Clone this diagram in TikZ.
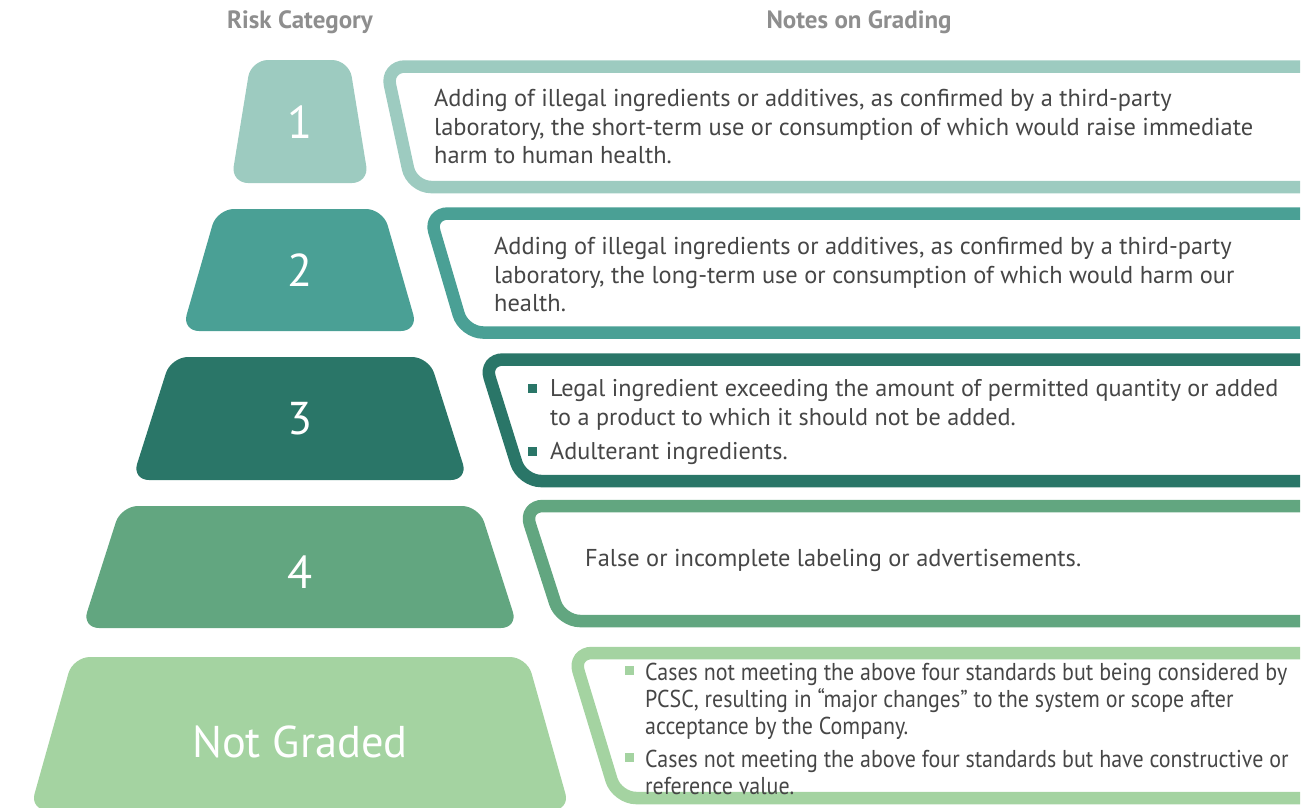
\documentclass[tikz,border=0pt]{standalone}
\usepackage{fontspec}
\setmainfont{PT Sans}
\newfontfamily\narrowfont[FakeStretch=0.9]{PT Sans}
\definecolor{riskone}  {RGB}{157, 203, 192}
\definecolor{risktwo}  {RGB}{ 74, 160, 149}
\definecolor{riskthree}{RGB}{ 42, 118, 104}
\definecolor{riskfour} {RGB}{ 98, 166, 128}
\definecolor{risknone} {RGB}{164, 211, 161}
\definecolor{notegray} {RGB}{ 70,  70,  70}
\definecolor{headgray} {RGB}{142, 142, 142}
\newcommand{\notebullet}[2][4pt]{\textcolor{#2}{\rule[#1]{9pt}{9pt}}}
\tikzset{
	tierblock/.style={
		rounded corners=17pt
	},
	tiernum/.style={
		text=white, inner sep=0pt,
		font=\fontsize{46}{46}\selectfont
	},
	noteframe/.style={
		line width=12.5pt, rounded corners=19pt
	},
	notetext/.style={
		anchor=west, align=left, inner sep=0pt, text=notegray,
		font=\fontsize{24.4}{28.5}\selectfont
	},
	header/.style={
		text=headgray, inner sep=0pt,
		font=\bfseries\fontsize{25}{25}\selectfont
	}
}

\begin{document}
\begin{tikzpicture}[x=1pt, y=-1pt]
	\clip (0,0) rectangle (1313,807);
	
	%% ═══════════════════════════════
	%%  HEADERS
	%% ═══════════════════════════════
	\node[header] (hcat)   at (300,22) {Risk Category};
	\node[header] (hnotes) at (859,22) {Notes on Grading};
	
	%% ═══════════════════════════════
	%%  PYRAMID — risk tiers (axis x=300)
	%% ═══════════════════════════════
	\fill[tierblock, fill=riskone]   (251,60)  -- (349,60)  -- (369,183) -- (231,183) -- cycle;
	\fill[tierblock, fill=risktwo]   (217,209) -- (383,209) -- (418,331) -- (182,331) -- cycle;
	\fill[tierblock, fill=riskthree] (171,357) -- (429,357) -- (468,480) -- (132,480) -- cycle;
	\fill[tierblock, fill=riskfour]  (121,506) -- (479,506) -- (518,628) -- (82,628)  -- cycle;
	\fill[tierblock, fill=risknone]  (73,657)  -- (527,657) -- (570,810) -- (30,810)  -- cycle;
	
	\node[tiernum] (tier1) at (300,122)   {1};
	\node[tiernum] (tier2) at (300,270)   {2};
	\node[tiernum] (tier3) at (300,418.5) {3};
	\node[tiernum] (tier4) at (300,572)   {4};
	\node[tiernum, font=\fontsize{44.5}{44.5}\selectfont] (tier5) at (300,742) {Not Graded};
	
	%% ═══════════════════════════════
	%%  NOTE FRAMES — open on the right
	%% ═══════════════════════════════
	\draw[noteframe, draw=riskone]   (1300,66.5)  -- (386,66.5)  -- (412,187)   -- (1300,187);
	\draw[noteframe, draw=risktwo]   (1300,213.5) -- (429,213.5) -- (464,332.5) -- (1300,332.5);
	\draw[noteframe, draw=riskthree] (1300,359.5) -- (484,359.5) -- (522,481)   -- (1300,481);
	\draw[noteframe, draw=riskfour]  (1300,506)   -- (524,506)   -- (561,621)   -- (1300,621);
	\draw[noteframe, draw=risknone]  (1300,653)   -- (573,653)   -- (617,798)   -- (1300,798);
	
	%% ═══════════════════════════════
	%%  NOTES
	%% ═══════════════════════════════
	\node[notetext] (note1) at (434,126.5) {Adding of illegal ingredients or additives, as confirmed by a third-party\\
		laboratory, the short-term use or consumption of which would raise immediate\\
		harm to human health.};
	
	\node[notetext] (note2) at (494,274.5) {Adding of illegal ingredients or additives, as confirmed by a third-party\\
		laboratory, the long-term use or consumption of which would harm our\\
		health.};
	
	\node[notetext, font=\fontsize{24.2}{28.5}\selectfont] (note3) at (528,422.5) {%
		\begin{tabular}{@{}l@{\hspace{13pt}}l@{}}
			\notebullet{riskthree} & Legal ingredient exceeding the amount of permitted quantity or added\\
			& to a product to which it should not be added.\\[6pt]
			\notebullet{riskthree} & Adulterant ingredients.
		\end{tabular}};
	
	\node[notetext] (note4) at (585,560) {False or incomplete labeling or advertisements.};
	
	\node[notetext, font=\narrowfont\fontsize{24.4}{27}\selectfont] (note5) at (625,732.5) {%
		\begin{tabular}{@{}l@{\hspace{11pt}}l@{}}
			\notebullet[6pt]{risknone} & Cases not meeting the above four standards but being considered by\\
			& PCSC, resulting in “major changes” to the system or scope after\\
			& acceptance by the Company.\\[6pt]
			\notebullet[6pt]{risknone} & Cases not meeting the above four standards but have constructive or\\
			& reference value.
		\end{tabular}};
\end{tikzpicture}
\end{document}
